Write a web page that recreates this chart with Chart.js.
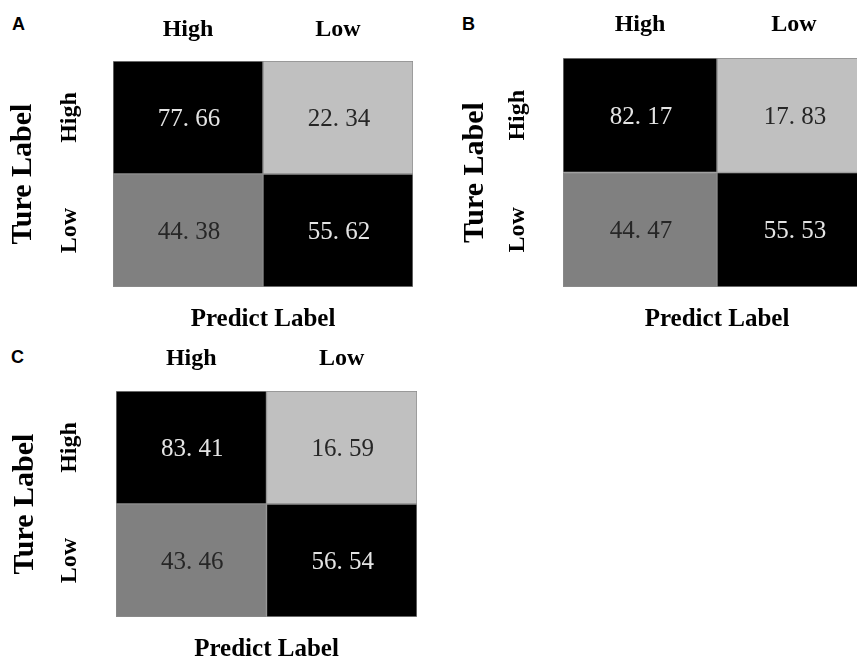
<!DOCTYPE html>
<html>
<head>
<meta charset="utf-8">
<title>Confusion matrices</title>
<script src="https://cdn.jsdelivr.net/npm/chart.js@4/dist/chart.umd.min.js"></script>
<style>
  html, body { margin: 0; padding: 0; background: #fff; }
  body { position: relative; width: 857px; height: 662px; overflow: hidden; }
  canvas { position: absolute; }
  .tag { position: absolute; font: bold 18px "Liberation Sans", Arial, sans-serif; line-height: 18px; color: #000; }
</style>
</head>
<body>
<div class="tag" style="left:12px;top:15px">A</div>
<div class="tag" style="left:462px;top:15px">B</div>
<div class="tag" style="left:11px;top:348px">C</div>
<canvas id="cmA" width="430" height="340" style="left:0;top:0"></canvas>
<canvas id="cmB" width="440" height="340" style="left:440px;top:0"></canvas>
<canvas id="cmC" width="430" height="340" style="left:0;top:330px"></canvas>
<script>
// Class labels (columns = predicted, rows = true)
const predictLabels = ['High', 'Low'];
const trueLabels = ['High', 'Low'];

// Percentages per true-label row: [predicted High, predicted Low]
const valuesA = [[77.66, 22.34], [44.38, 55.62]];
const valuesB = [[82.17, 17.83], [44.47, 55.53]];
const valuesC = [[83.41, 16.59], [43.46, 56.54]];

const SERIF = '"Liberation Serif", "Times New Roman", serif';

// Three-step grey map for cell shading
function shade(v) {
  if (v >= 50) return '#000000';
  if (v >= 30) return '#808080';
  return '#c0c0c0';
}

function formatCell(v) {
  return v.toFixed(2).replace('.', '. ');
}

// Draws the value in each cell and the rotated row labels
const cellText = {
  id: 'cellText',
  afterDatasetsDraw(chart, args, opts) {
    const ctx = chart.ctx;
    ctx.save();
    ctx.textAlign = 'center';
    ctx.textBaseline = 'middle';
    ctx.font = '25px ' + SERIF;
    chart.data.datasets.forEach((ds, i) => {
      chart.getDatasetMeta(i).data.forEach((bar, j) => {
        const v = ds.cellValues[j];
        ctx.fillStyle = v >= 50 ? '#e4e4e4' : '#262626';
        ctx.fillText(formatCell(v), bar.x + 1, (bar.y + bar.base) / 2 + 2);
      });
    });
    const ys = chart.scales.y;
    ctx.font = 'bold 24px ' + SERIF;
    ctx.fillStyle = '#000';
    trueLabels.forEach((lab, i) => {
      const yc = (ys.getPixelForValue(2 - i) + ys.getPixelForValue(1 - i)) / 2;
      ctx.save();
      ctx.translate(opts.rowLabelX, yc);
      ctx.rotate(-Math.PI / 2);
      ctx.fillText(lab, 0, 0);
      ctx.restore();
    });
    ctx.restore();
  }
};

function makeMatrix(id, values, lay) {
  const datasets = values.map((row, i) => ({
    data: predictLabels.map(() => [trueLabels.length - 1 - i, trueLabels.length - i]),
    cellValues: row,
    backgroundColor: row.map(shade),
    borderColor: '#8c8c8c',
    borderWidth: 1,
    borderSkipped: false,
    barPercentage: 1,
    categoryPercentage: 1
  }));
  return new Chart(document.getElementById(id), {
    type: 'bar',
    data: { labels: predictLabels, datasets },
    options: {
      responsive: false,
      animation: false,
      layout: { padding: { left: 0, top: 0, bottom: 0, right: lay.padRight } },
      plugins: {
        legend: { display: false },
        tooltip: { enabled: false },
        cellText: { rowLabelX: lay.rowLabelX }
      },
      datasets: { bar: { grouped: false } },
      scales: {
        x: {
          type: 'category',
          position: 'top',
          grid: { display: false, drawTicks: false },
          border: { display: false },
          ticks: { color: '#000', padding: lay.headPad, font: { family: SERIF, size: 24, weight: 'bold' } },
          afterFit(s) { s.height = lay.top; }
        },
        xb: {
          type: 'category',
          position: 'bottom',
          grid: { display: false, drawTicks: false },
          border: { display: false },
          ticks: { display: false },
          title: {
            display: true, text: 'Predict Label', color: '#000',
            font: { family: SERIF, size: 25, weight: 'bold' },
            padding: { top: 0, bottom: 5 }
          },
          afterFit(s) { s.height = lay.bottomH; }
        },
        y: {
          type: 'linear',
          min: 0,
          max: trueLabels.length,
          position: 'left',
          grid: { display: false, drawTicks: false },
          border: { display: false },
          ticks: { display: false },
          title: {
            display: true, text: 'Ture Label', color: '#000',
            font: { family: SERIF, size: 30, weight: 'bold' },
            padding: { top: lay.titlePad, bottom: 0 }
          },
          afterFit(s) { s.width = lay.left; }
        }
      }
    },
    plugins: [cellText]
  });
}

makeMatrix('cmA', valuesA, { left: 113, top: 61, bottomH: 53, padRight: 17, headPad: 17, titlePad: 5, rowLabelX: 70 });
makeMatrix('cmB', valuesB, { left: 123, top: 58, bottomH: 53, padRight: 9, headPad: 19, titlePad: 17, rowLabelX: 78 });
makeMatrix('cmC', valuesC, { left: 116, top: 61, bottomH: 53, padRight: 13, headPad: 18, titlePad: 7, rowLabelX: 70 });
</script>
</body>
</html>
